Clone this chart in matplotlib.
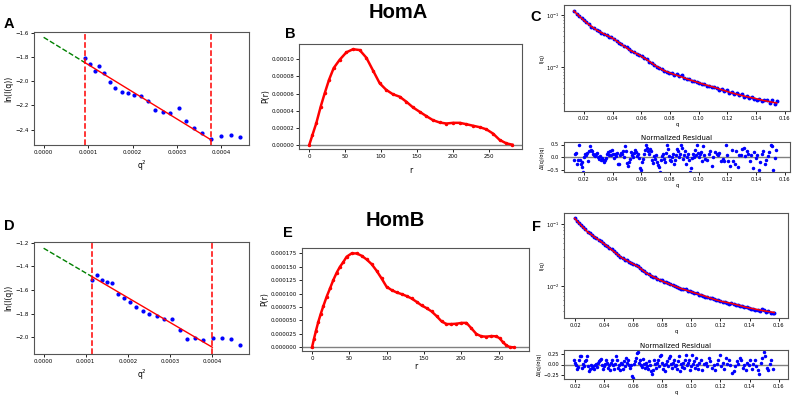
import matplotlib.pyplot as plt

# ---- Guinier plots (A, D) ----
q2_A = [0.0000921, 0.0001034, 0.0001146, 0.0001251, 0.0001363, 0.0001483, 0.0001610, 0.0001768,
        0.0001895, 0.0002030, 0.0002187, 0.0002337, 0.0002494, 0.0002682, 0.0002846, 0.0003034,
        0.0003199, 0.0003386, 0.0003566, 0.0003760, 0.0004000, 0.0004210, 0.0004419]
lnI_A = [-1.810, -1.857, -1.912, -1.876, -1.928, -2.008, -2.055, -2.088, -2.094, -2.110, -2.121, -2.163,
         -2.234, -2.254, -2.262, -2.223, -2.331, -2.383, -2.428, -2.477, -2.455, -2.441, -2.461]
fit_A = (0.0000921, 0.000376, -1.636, -2253.0)   # q2 min, q2 max, intercept, slope

q2_D = [0.0001146, 0.0001257, 0.0001375, 0.0001494, 0.0001621, 0.0001763, 0.0001913, 0.0002055,
        0.0002206, 0.0002356, 0.0002514, 0.0002696, 0.0002870, 0.0003051, 0.0003233, 0.0003407,
        0.0003597, 0.0003794, 0.0004024, 0.0004237, 0.0004443, 0.0004656]
lnI_D = [-1.515, -1.470, -1.513, -1.530, -1.538, -1.637, -1.665, -1.701, -1.746, -1.780, -1.808,
         -1.825, -1.845, -1.845, -1.938, -2.020, -2.008, -2.025, -2.008, -2.006, -2.020, -2.068]
fit_D = (0.0001146, 0.0004008, -1.245, -2100.0)

# ---- P(r) (B, E) ----
r_B = [0, 4.2, 9.8, 15.8, 21.4, 27.4, 33.9, 42.3, 51.6, 60.9, 70.2, 79.5, 88.8, 98.1, 107.3, 116.6,
       125.9, 135.2, 144.5, 153.8, 163.1, 172.4, 181.7, 191.0, 200.3, 209.6, 218.9, 228.2, 237.5,
       246.8, 256.1, 265.4, 274.7, 283.0]
p_B = [0, 1.10e-5, 2.55e-5, 4.45e-5, 6.02e-5, 7.60e-5, 8.98e-5, 9.96e-5, 1.083e-4, 1.120e-4, 1.110e-4,
       1.020e-4, 8.70e-5, 7.20e-5, 6.42e-5, 5.91e-5, 5.63e-5, 5.04e-5, 4.37e-5, 3.86e-5, 3.35e-5,
       2.87e-5, 2.60e-5, 2.48e-5, 2.56e-5, 2.56e-5, 2.40e-5, 2.22e-5, 2.05e-5, 1.80e-5, 1.30e-5,
       5.5e-6, 1.5e-6, 0]

r_E = [0, 2.7, 5.3, 8.5, 11.6, 15.2, 19.6, 24.1, 28.5, 33.0, 37.4, 41.9, 46.3, 53.0, 59.7, 66.4, 73.1,
       79.8, 86.5, 93.1, 99.8, 106.5, 113.2, 119.9, 126.6, 133.2, 139.9, 146.6, 153.3, 160.0, 166.7,
       173.4, 180.0, 186.7, 193.4, 200.1, 206.8, 213.5, 220.1, 226.8, 233.5, 240.2, 246.9, 251.3,
       255.8, 260.2, 264.7, 270.1]
p_E = [0, 1.61e-5, 3.10e-5, 4.78e-5, 6.20e-5, 7.70e-5, 9.43e-5, 1.098e-4, 1.253e-4, 1.390e-4, 1.500e-4,
       1.588e-4, 1.687e-4, 1.749e-4, 1.749e-4, 1.706e-4, 1.637e-4, 1.550e-4, 1.426e-4, 1.284e-4,
       1.129e-4, 1.067e-4, 1.023e-4, 9.92e-5, 9.55e-5, 9.11e-5, 8.49e-5, 7.81e-5, 7.31e-5, 6.70e-5,
       5.83e-5, 4.84e-5, 4.34e-5, 4.34e-5, 4.40e-5, 4.55e-5, 4.55e-5, 3.53e-5, 2.48e-5, 2.05e-5,
       1.99e-5, 2.10e-5, 2.05e-5, 1.67e-5, 9.3e-6, 3.7e-6, 6e-7, 0]

# ---- SAXS fits (C, F) ----
q_C = [0.0132, 0.0150, 0.0168, 0.0185, 0.0200, 0.0218, 0.0235, 0.0252, 0.0270, 0.0288,
       0.0305, 0.0322, 0.0340, 0.0358, 0.0375, 0.0392, 0.0410, 0.0428, 0.0445, 0.0462,
       0.0480, 0.0498, 0.0515, 0.0532, 0.0550, 0.0568, 0.0585, 0.0602, 0.0620, 0.0638,
       0.0655, 0.0672, 0.0690, 0.0708, 0.0725, 0.0742, 0.0760, 0.0778, 0.0795, 0.0812,
       0.0830, 0.0848, 0.0865, 0.0882, 0.0900, 0.0918, 0.0935, 0.0952, 0.0970, 0.0988,
       0.1005, 0.1022, 0.1040, 0.1058, 0.1075, 0.1092, 0.1110, 0.1128, 0.1145, 0.1162,
       0.1180, 0.1198, 0.1215, 0.1232, 0.1250, 0.1268, 0.1285, 0.1302, 0.1320, 0.1338,
       0.1355, 0.1372, 0.1390, 0.1408, 0.1425, 0.1442, 0.1460, 0.1478, 0.1495, 0.1512,
       0.1530, 0.1545]
I_C = [0.1189, 0.1059, 0.0955, 0.0871, 0.0785, 0.0724, 0.0661, 0.0596, 0.0562, 0.0507,
       0.0484, 0.0452, 0.0432, 0.0412, 0.0385, 0.0372, 0.0339, 0.0316, 0.0295, 0.0279,
       0.0251, 0.0237, 0.0219, 0.0200, 0.0193, 0.0180, 0.0168, 0.0162, 0.0148, 0.0141,
       0.0126, 0.0119, 0.0111, 0.0100, 0.00933, 0.00902, 0.00822, 0.00813, 0.00750, 0.00776,
       0.00708, 0.00724, 0.00668, 0.00692, 0.00610, 0.00582, 0.00596, 0.00537, 0.00525, 0.00519,
       0.00490, 0.00468, 0.00473, 0.00437, 0.00427, 0.00407, 0.00417, 0.00389, 0.00363, 0.00376,
       0.00339, 0.00351, 0.00316, 0.00331, 0.00299, 0.00309, 0.00282, 0.00295, 0.00266, 0.00279,
       0.00251, 0.00263, 0.00243, 0.00234, 0.00243, 0.00224, 0.00234, 0.00232, 0.00204, 0.00229,
       0.00191, 0.00219]
qfit_C = [0.0130, 0.0184, 0.0230, 0.0288, 0.0346, 0.0404, 0.0463, 0.0521, 0.0579, 0.0637, 0.0695,
          0.0753, 0.0811, 0.0869, 0.0927, 0.0985, 0.1043, 0.1101, 0.1159, 0.1218, 0.1276, 0.1334,
          0.1392, 0.1450, 0.1508, 0.1545]
Ifit_C = [0.1195, 0.0862, 0.0670, 0.0513, 0.0423, 0.0353, 0.0270, 0.0210, 0.0174, 0.01386, 0.01076,
          0.00861, 0.00742, 0.00659, 0.00576, 0.00512, 0.00455, 0.00410, 0.00364, 0.00323, 0.00292,
          0.00267, 0.00248, 0.00226, 0.00210, 0.00201]
qres_C = [.0130, .0137, .0144, .0151, .0160, .0168, .0172, .0179, .0184, .0188,
          .0193, .0198, .0207, .0214, .0221, .0226, .0235, .0242, .0249, .0256,
          .0263, .0270, .0277, .0284, .0291, .0298, .0305, .0312, .0319, .0326,
          .0333, .0339, .0346, .0353, .0360, .0370, .0377, .0384, .0391, .0398,
          .0404, .0411, .0418, .0425, .0432, .0440, .0446, .0453, .0460, .0467,
          .0474, .0481, .0488, .0495, .0502, .0509, .0516, .0523, .0530, .0537,
          .0544, .0551, .0558, .0565, .0572, .0579, .0586, .0593, .0600, .0607,
          .0614, .0621, .0628, .0635, .0641, .0648, .0655, .0662, .0669, .0676,
          .0683, .0690, .0697, .0704, .0711, .0718, .0725, .0732, .0739, .0746,
          .0753, .0760, .0767, .0774, .0781, .0788, .0795, .0802, .0809, .0816,
          .0823, .0830, .0837, .0843, .0850, .0857, .0864, .0871, .0878, .0885,
          .0892, .0899, .0906, .0913, .0920, .0927, .0934, .0941, .0948, .0955,
          .0962, .0969, .0976, .0983, .0990, .0997, .1004, .1011, .1018, .1025,
          .1032, .1039, .1046, .1057, .1071, .1083, .1092, .1104, .1115, .1127,
          .1136, .1146, .1159, .1169, .1180, .1190, .1199, .1208, .1220, .1231,
          .1243, .1252, .1264, .1273, .1285, .1296, .1306, .1317, .1327, .1338,
          .1348, .1359, .1369, .1380, .1389, .1401, .1410, .1422, .1431, .1443,
          .1452, .1464, .1473, .1485, .1494, .1503, .1513, .1522, .1531, .1543]
res_C = [-0.11, 0.11, 0.16, -0.27, -0.11, 0.47, -0.13, -0.27, -0.20, -0.40,
         -0.60, 0.00, 0.11, 0.07, 0.16, -0.16, 0.24, 0.43, 0.27, 0.24,
         0.13, 0.07, 0.03, 0.13, 0.16, 0.00, -0.07, 0.03, -0.13, -0.05,
         -0.11, -0.20, -0.13, -0.03, 0.11, 0.20, 0.07, 0.24, 0.07, 0.29,
         0.11, -0.03, 0.13, 0.03, 0.16, -0.27, -0.29, 0.07, 0.16, 0.11,
         0.24, 0.00, 0.43, 0.24, -0.24, -0.37, -0.19, -0.07, 0.20, 0.07,
         0.00, 0.16, 0.27, 0.20, 0.03, 0.13, -0.03, -0.43, -0.53, -0.20,
         -0.07, 0.11, 0.29, 0.47, 0.37, 0.24, 0.13, 0.33, 0.24, -0.11,
         -0.24, 0.03, -0.07, 0.07, -0.20, -0.33, -0.40, -0.60, -0.13, 0.03,
         0.13, -0.07, -0.20, 0.16, 0.47, 0.33, 0.03, -0.11, -0.16, 0.00,
         0.11, -0.27, -0.13, 0.07, 0.33, 0.24, 0.00, 0.11, 0.50, 0.37,
         -0.07, 0.07, 0.24, -0.27, 0.00, 0.11, -0.11, -0.60, -0.43, -0.03,
         0.13, 0.00, 0.27, 0.07, 0.47, 0.16, 0.00, 0.11, 0.20, -0.16,
         0.43, 0.07, -0.07, -0.13, 0.13, 0.24, -0.37, 0.00, 0.20, 0.11,
         0.07, 0.16, -0.16, -0.07, -0.16, 0.50, 0.07, -0.16, -0.37, 0.29,
         -0.16, -0.27, 0.24, -0.40, 0.07, 0.07, 0.33, 0.37, 0.03, 0.24,
         0.11, -0.16, 0.07, -0.43, 0.20, -0.03, 0.07, -0.50, -0.20, 0.11,
         0.24, -0.29, -0.11, 0.03, 0.20, 0.47, 0.43, -0.50, -0.03, 0.27]

q_F = [0.0195, 0.0210, 0.0225, 0.0240, 0.0255, 0.0270, 0.0285, 0.0300, 0.0315, 0.0330,
       0.0345, 0.0360, 0.0375, 0.0390, 0.0405, 0.0420, 0.0435, 0.0450, 0.0465, 0.0480,
       0.0495, 0.0510, 0.0525, 0.0540, 0.0555, 0.0570, 0.0585, 0.0600, 0.0615, 0.0630,
       0.0645, 0.0660, 0.0675, 0.0690, 0.0705, 0.0720, 0.0735, 0.0750, 0.0765, 0.0780,
       0.0795, 0.0810, 0.0825, 0.0840, 0.0855, 0.0870, 0.0885, 0.0900, 0.0915, 0.0930,
       0.0945, 0.0960, 0.0975, 0.0990, 0.1005, 0.1020, 0.1035, 0.1050, 0.1065, 0.1080,
       0.1095, 0.1110, 0.1125, 0.1140, 0.1155, 0.1170, 0.1185, 0.1200, 0.1215, 0.1230,
       0.1245, 0.1260, 0.1275, 0.1290, 0.1305, 0.1320, 0.1335, 0.1350, 0.1365, 0.1380,
       0.1395, 0.1410, 0.1425, 0.1440, 0.1455, 0.1470, 0.1485, 0.1500, 0.1515, 0.1530,
       0.1545, 0.1560, 0.1570]
I_F = [0.1250, 0.1150, 0.1055, 0.0960, 0.0900, 0.0835, 0.0760, 0.0715, 0.0670, 0.0628,
       0.0598, 0.0565, 0.0535, 0.0500, 0.0472, 0.0445, 0.0418, 0.0395, 0.0365, 0.0345,
       0.0322, 0.0300, 0.0285, 0.0268, 0.0262, 0.0250, 0.0236, 0.0228, 0.0218, 0.0214,
       0.0196, 0.0186, 0.0174, 0.0162, 0.0158, 0.0149, 0.0140, 0.0140, 0.0133, 0.0127,
       0.0125, 0.0117, 0.0116, 0.0113, 0.0111, 0.0104, 0.0102, 0.0098, 0.0096, 0.0092,
       0.0091, 0.0090, 0.0084, 0.0083, 0.0082, 0.0077, 0.0078, 0.0074, 0.0073, 0.0071,
       0.0068, 0.0068, 0.0065, 0.0066, 0.0062, 0.0060, 0.0061, 0.0058, 0.0056, 0.0057,
       0.0055, 0.0053, 0.0054, 0.0052, 0.0050, 0.0051, 0.0048, 0.0049, 0.0046, 0.0047,
       0.0045, 0.0043, 0.0044, 0.0042, 0.0041, 0.0040, 0.0043, 0.0042, 0.0039, 0.0040,
       0.0038, 0.0037, 0.0038]
qfit_F = [0.0195, 0.0241, 0.0287, 0.0345, 0.0402, 0.0460, 0.0517, 0.0575, 0.0632, 0.0689, 0.0747,
          0.0804, 0.0861, 0.0919, 0.0976, 0.1034, 0.1091, 0.1149, 0.1206, 0.1263, 0.1320, 0.1378,
          0.1435, 0.1493, 0.1550, 0.1570]
Ifit_F = [0.1247, 0.0953, 0.0745, 0.0596, 0.0478, 0.0373, 0.0292, 0.0245, 0.0209, 0.0164, 0.0139,
          0.0120, 0.0106, 0.0094, 0.0085, 0.0077, 0.0070, 0.00627, 0.00574, 0.00541, 0.00502,
          0.00460, 0.00433, 0.00407, 0.00387, 0.00380]
qres_F = [.0191, .0198, .0205, .0211, .0218, .0225, .0232, .0239, .0246, .0253,
          .0260, .0267, .0273, .0280, .0287, .0294, .0301, .0308, .0315, .0322,
          .0329, .0335, .0342, .0349, .0356, .0363, .0370, .0377, .0384, .0391,
          .0397, .0404, .0411, .0418, .0425, .0432, .0439, .0446, .0453, .0459,
          .0466, .0473, .0480, .0487, .0494, .0501, .0508, .0514, .0521, .0528,
          .0535, .0542, .0549, .0556, .0563, .0570, .0576, .0583, .0590, .0597,
          .0604, .0611, .0618, .0624, .0631, .0638, .0645, .0652, .0659, .0666,
          .0673, .0680, .0687, .0694, .0701, .0708, .0714, .0721, .0728, .0735,
          .0742, .0749, .0756, .0763, .0769, .0776, .0783, .0790, .0797, .0804,
          .0811, .0818, .0825, .0831, .0838, .0845, .0852, .0859, .0866, .0873,
          .0880, .0886, .0893, .0900, .0907, .0914, .0921, .0928, .0935, .0941,
          .0948, .0955, .0962, .0969, .0975, .0982, .0989, .0996, .1003, .1010,
          .1017, .1024, .1031, .1038, .1045, .1052, .1063, .1075, .1086, .1098,
          .1109, .1118, .1130, .1141, .1153, .1162, .1173, .1185, .1194, .1206,
          .1215, .1226, .1238, .1247, .1258, .1268, .1279, .1291, .1300, .1311,
          .1320, .1332, .1341, .1353, .1362, .1373, .1383, .1394, .1403, .1415,
          .1424, .1435, .1444, .1456, .1465, .1476, .1486, .1497, .1506, .1518,
          .1527, .1539, .1550, .1562]
res_F = [0.10, 0.04, -0.02, -0.10, -0.06, 0.12, 0.21, 0.20, -0.08, 0.02,
         -0.04, 0.08, 0.12, 0.20, -0.04, -0.16, -0.10, -0.02, -0.08, -0.04,
         -0.12, 0.00, 0.02, -0.06, 0.04, 0.08, 0.12, 0.13, 0.00, -0.10,
         -0.04, 0.02, 0.10, 0.04, -0.08, -0.02, -0.13, 0.04, 0.10, 0.00,
         -0.10, 0.02, 0.21, 0.12, -0.08, -0.02, -0.13, 0.04, 0.02, -0.10,
         0.08, -0.04, 0.16, 0.04, 0.10, 0.00, -0.08, -0.02, -0.28, -0.34,
         0.02, 0.08, 0.16, 0.28, 0.32, 0.04, 0.10, -0.02, -0.06, 0.13,
         0.02, -0.08, 0.04, -0.04, -0.10, 0.08, -0.02, -0.16, -0.24, -0.13,
         0.12, 0.02, -0.08, 0.04, 0.10, -0.04, 0.20, 0.24, 0.04, -0.10,
         -0.02, -0.16, 0.02, 0.08, -0.04, 0.16, 0.21, 0.02, -0.08, 0.04,
         0.10, -0.04, 0.00, -0.10, 0.08, 0.20, -0.16, 0.02, -0.06, 0.04,
         -0.08, 0.12, 0.24, -0.02, 0.04, 0.10, -0.13, -0.04, 0.24, 0.02,
         0.08, -0.08, 0.16, -0.02, -0.10, 0.04, 0.10, -0.13, 0.02, 0.04,
         -0.04, 0.16, 0.08, -0.08, 0.00, -0.13, 0.02, 0.10, 0.24, -0.04,
         0.04, -0.10, 0.16, 0.02, 0.10, 0.00, -0.20, -0.16, -0.04, 0.08,
         0.02, 0.16, 0.10, -0.08, -0.02, -0.13, 0.04, 0.00, 0.12, -0.10,
         0.02, 0.10, -0.04, -0.13, -0.24, 0.04, 0.16, 0.32, 0.21, -0.08,
         -0.13, 0.02, 0.10, -0.10]

W, H = 794, 400
plt.rcParams['axes.edgecolor'] = '#555555'
plt.rcParams['axes.linewidth'] = 0.8


def box(x0, y0, x1, y1):
    # pixel box (top-left origin) -> figure fraction rect
    return [x0 / W, 1 - y1 / H, (x1 - x0) / W, (y1 - y0) / H]


def style(ax, size=4.0):
    ax.tick_params(labelsize=size, length=2, width=0.6, pad=1.5)


def guinier(ax, q2, lnI, fit, xlim, ylim, yticks):
    lo, hi, b0, k = fit
    ax.plot([0, lo], [b0, b0 + k * lo], 'g--', lw=1)
    ax.plot(q2, lnI, 'b.', ms=4)
    ax.plot([lo, hi], [b0 + k * lo, b0 + k * hi], 'r-', lw=1)
    ax.axvline(lo, color='r', ls='--', lw=1.1)
    ax.axvline(hi, color='r', ls='--', lw=1.1)
    ax.set_xlim(*xlim)
    ax.set_ylim(*ylim)
    ax.set_xticks([0, 0.0001, 0.0002, 0.0003, 0.0004])
    ax.set_xticklabels(['0.0000', '0.0001', '0.0002', '0.0003', '0.0004'])
    ax.set_yticks(yticks)
    ax.set_xlabel('q$^2$', fontsize=5.5, labelpad=3)
    ax.set_ylabel('ln(I(q))', fontsize=5.5, labelpad=2)
    style(ax)


def pr(ax, r, p, xlim, ylim, xpad):
    ax.axhline(0, color='gray', lw=1)
    ax.plot(r, p, 'r.-', lw=1.8, ms=3)
    ax.set_xlim(*xlim)
    ax.set_ylim(*ylim)
    ax.set_xticks([0, 50, 100, 150, 200, 250])
    ax.set_xlabel('r', fontsize=5.5, labelpad=xpad)
    ax.set_ylabel('P(r)', fontsize=5.5, labelpad=1)
    style(ax)


def saxs(ax, ax2, q, I, qf, If, qr, res, xlim, ylim, rlim, rticks, rlabels):
    ax.semilogy(q, I, 'b.', ms=3.6)
    ax.semilogy(qf, If, 'r-', lw=1.1)
    ax.set_xlim(*xlim)
    ax.set_ylim(*ylim)
    ax.set_xticks([0.02, 0.04, 0.06, 0.08, 0.10, 0.12, 0.14, 0.16])
    ax.set_xticklabels(['0.02', '0.04', '0.06', '0.08', '0.10', '0.12', '0.14', '0.16'])
    ax.set_xlabel('q', fontsize=3.8, labelpad=1)
    ax.set_ylabel('I(q)', fontsize=3.8, labelpad=1)
    style(ax, 3.7)
    ax.tick_params(which='minor', length=1, width=0.4)

    ax2.axhline(0, color='gray', lw=1)
    ax2.plot(qr, res, 'b.', ms=3)
    ax2.set_xlim(*xlim)
    ax2.set_ylim(*rlim)
    ax2.set_yticks(rticks)
    ax2.set_yticklabels(rlabels)
    ax2.set_xticks([0.02, 0.04, 0.06, 0.08, 0.10, 0.12, 0.14, 0.16])
    ax2.set_xticklabels(['0.02', '0.04', '0.06', '0.08', '0.10', '0.12', '0.14', '0.16'])
    ax2.set_title('Normalized Residual', fontsize=5, pad=1.5)
    ax2.set_xlabel('q', fontsize=3.8, labelpad=1)
    ax2.set_ylabel('ΔI(q)/σ(q)', fontsize=3.5, labelpad=1)
    style(ax2, 3.7)


fig = plt.figure(figsize=(W / 100, H / 100), dpi=100)

axA = fig.add_axes(box(34, 32, 249, 145))
guinier(axA, q2_A, lnI_A, fit_A, (-0.0000217, 0.000462), (-2.527, -1.592),
        [-1.6, -1.8, -2.0, -2.2, -2.4])
axD = fig.add_axes(box(34, 242, 249, 354))
guinier(axD, q2_D, lnI_D, fit_D, (-0.0000229, 0.000488), (-2.144, -1.192),
        [-1.2, -1.4, -1.6, -1.8, -2.0])

axB = fig.add_axes(box(299, 44, 522, 149))
pr(axB, r_B, p_B, (-14.4, 296.5), (-5.1e-6, 1.181e-4), 5)
axE = fig.add_axes(box(302, 248, 529, 351))
pr(axE, r_E, p_E, (-13.4, 290.5), (-6.8e-6, 1.85e-4), 1)

axC = fig.add_axes(box(564, 5, 790, 111))
axC2 = fig.add_axes(box(564, 142, 790, 172))
saxs(axC, axC2, q_C, I_C, qfit_C, Ifit_C, qres_C, res_C, (0.0061, 0.1638), (0.00141, 0.156),
     (-0.6, 0.6), [0.5, 0.0, -0.5], ['0.5', '0.0', '−0.5'])
axF = fig.add_axes(box(564, 213, 788, 318))
axF2 = fig.add_axes(box(564, 350, 788, 379))
saxs(axF, axF2, q_F, I_F, qfit_F, Ifit_F, qres_F, res_F, (0.0122, 0.1665), (0.0031, 0.152),
     (-0.36, 0.36), [0.25, 0.0, -0.25], ['0.25', '0.00', '−0.25'])

# panel letters and titles
for lab, x, y in [('A', 4, 28), ('B', 285, 38), ('C', 530, 21),
                  ('D', 4, 230), ('E', 283, 237), ('F', 532, 231)]:
    fig.text(x / W, 1 - y / H, lab, fontsize=10.5, fontweight='bold',
             family='Liberation Sans', va='baseline', ha='left')
fig.text(398 / W, 1 - 18 / H, 'HomA', fontsize=14.5, fontweight='bold',
         family='Liberation Sans', va='baseline', ha='center')
fig.text(395 / W, 1 - 226 / H, 'HomB', fontsize=14.5, fontweight='bold',
         family='Liberation Sans', va='baseline', ha='center')

fig.savefig('out.png', dpi=100)
